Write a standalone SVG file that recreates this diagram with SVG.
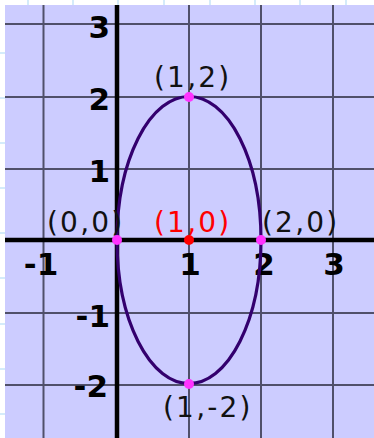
<svg xmlns="http://www.w3.org/2000/svg" width="374" height="438" viewBox="0 0 374 438">
<style>
.bg{stroke:#c6e4f8;stroke-width:1.5}
.grid{stroke:#50506a;stroke-width:2}
.axis{stroke:#000;stroke-width:4.5}
.num{font-family:"DejaVu Sans",Verdana,sans-serif;font-weight:bold;font-size:31px;fill:#000}
.lbl{font-family:"DejaVu Sans",Verdana,sans-serif;font-size:28px;letter-spacing:2.2px;fill:#111}
.pt{fill:#ff33ff}
</style>
<rect x="0" y="0" width="374" height="438" fill="#ffffff"/>
<g class="bg">
<line x1="28" y1="0" x2="28" y2="5"/><line x1="73" y1="0" x2="73" y2="5"/><line x1="118" y1="0" x2="118" y2="5"/><line x1="164" y1="0" x2="164" y2="5"/><line x1="210" y1="0" x2="210" y2="5"/><line x1="255" y1="0" x2="255" y2="5"/><line x1="300" y1="0" x2="300" y2="5"/><line x1="346" y1="0" x2="346" y2="5"/>
<line x1="0" y1="53" x2="5" y2="53"/><line x1="0" y1="98" x2="5" y2="98"/><line x1="0" y1="143" x2="5" y2="143"/><line x1="0" y1="188" x2="5" y2="188"/><line x1="0" y1="233" x2="5" y2="233"/><line x1="0" y1="278" x2="5" y2="278"/><line x1="0" y1="324" x2="5" y2="324"/><line x1="0" y1="369" x2="5" y2="369"/><line x1="0" y1="414" x2="5" y2="414"/>
</g>
<rect x="5" y="5" width="369" height="433" fill="#ccccff"/>
<g class="grid">
<line x1="43.5" y1="5" x2="43.5" y2="438"/>
<line x1="189" y1="5" x2="189" y2="438"/>
<line x1="261" y1="5" x2="261" y2="438"/>
<line x1="333" y1="5" x2="333" y2="438"/>
<line x1="5" y1="24" x2="374" y2="24"/>
<line x1="5" y1="97" x2="374" y2="97"/>
<line x1="5" y1="169" x2="374" y2="169"/>
<line x1="5" y1="313" x2="374" y2="313"/>
<line x1="5" y1="385" x2="374" y2="385"/>
</g>
<g class="axis">
<line x1="117" y1="5" x2="117" y2="438"/>
<line x1="5" y1="240" x2="374" y2="240"/>
</g>
<g class="num">
<text x="110" y="38" text-anchor="end">3</text>
<text x="110" y="110" text-anchor="end">2</text>
<text x="110" y="182" text-anchor="end">1</text>
<text x="110" y="327" text-anchor="end">-1</text>
<text x="108" y="397" text-anchor="end">-2</text>
<text x="41" y="275" text-anchor="middle">-1</text>
<text x="190" y="275" text-anchor="middle">1</text>
<text x="264" y="275" text-anchor="middle">2</text>
<text x="334" y="275" text-anchor="middle">3</text>
</g>
<ellipse cx="189" cy="240" rx="72" ry="143.5" fill="none" stroke="#33006e" stroke-width="3.2"/>
<g class="lbl">
<text x="154" y="87">(1,2)</text>
<text x="47" y="232">(0,0)</text>
<text x="154" y="232" fill="#ff0000">(1,0)</text>
<text x="262" y="232">(2,0)</text>
<text x="163" y="417">(1,-2)</text>
</g>
<circle cx="189" cy="240" r="5" fill="#ff0000"/>
<circle class="pt" cx="117" cy="240" r="5"/>
<circle class="pt" cx="261" cy="240" r="5"/>
<circle class="pt" cx="189" cy="97" r="5"/>
<circle class="pt" cx="189" cy="384" r="5"/>
</svg>
